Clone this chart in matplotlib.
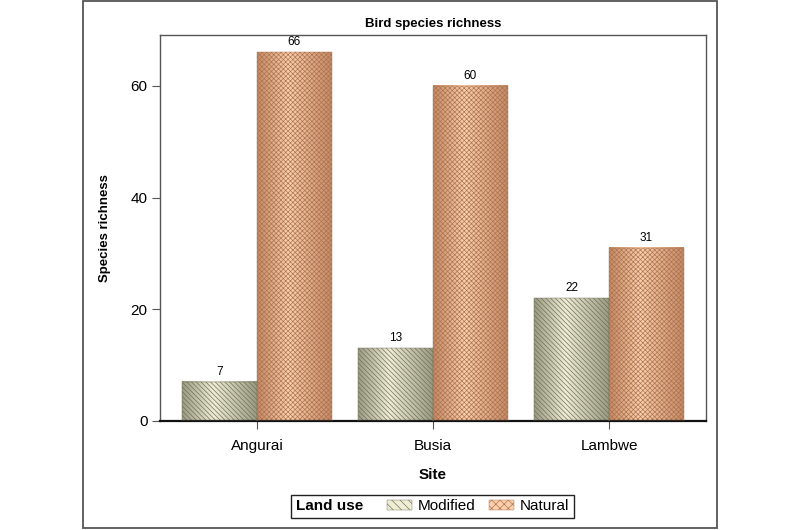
import numpy as np
import matplotlib
matplotlib.use("Agg")
import matplotlib.pyplot as plt
from matplotlib.colors import LinearSegmentedColormap
from matplotlib.patches import Patch, Rectangle
from matplotlib.offsetbox import HPacker

sites = ["Angurai", "Busia", "Lambwe"]
modified = [7, 13, 22]
natural = [66, 60, 31]
series_names = ["Modified", "Natural"]

plt.rcParams["font.family"] = ["Liberation Sans", "DejaVu Sans"]
plt.rcParams["hatch.linewidth"] = 0.45

fig = plt.figure(figsize=(8, 5.3), dpi=100)
ax = fig.add_axes([0.2, 0.2057, 0.6825, 0.7283])

# outer frame around the whole plot region
fig.patches.append(Rectangle((83 / 800, 1 - 528 / 530), (717 - 83) / 800, 527 / 530,
                             transform=fig.transFigure, fill=False,
                             edgecolor="#555555", lw=1.3))

width = 0.425
x = np.arange(len(sites))

styles = {
    "Modified": dict(edge="#9c9c82", mid="#efedd4", hatch="\\" * 7, hcol="#6a695a"),
    "Natural": dict(edge="#c68a64", mid="#fccfaa", hatch="x" * 7, hcol="#a87252"),
}


def shaded_bar(x0, x1, h, st):
    cmap = LinearSegmentedColormap.from_list(
        "g", [(0, st["edge"]), (0.42, st["mid"]), (1, st["edge"])])
    grad = np.linspace(0, 1, 64)[np.newaxis, :]
    ax.imshow(grad, extent=[x0, x1, 0, h], aspect="auto", cmap=cmap,
              zorder=1, interpolation="bilinear")
    ax.bar((x0 + x1) / 2, h, width=x1 - x0, fill=False, hatch=st["hatch"],
           edgecolor=st["hcol"], linewidth=0, zorder=2)
    ax.bar((x0 + x1) / 2, h, width=x1 - x0, fill=False,
           edgecolor=st["hcol"], linewidth=0.3, zorder=3)


for i, (m, n) in enumerate(zip(modified, natural)):
    shaded_bar(x[i] - width, x[i], m, styles["Modified"])
    shaded_bar(x[i], x[i] + width, n, styles["Natural"])
    ax.annotate(str(m), (x[i] - width / 2, m), xytext=(0, 3),
                textcoords="offset points", ha="center", va="bottom", fontsize=8.5)
    ax.annotate(str(n), (x[i] + width / 2, n), xytext=(0, 3),
                textcoords="offset points", ha="center", va="bottom", fontsize=8.5)

ax.set_xlim(-0.55, 2.55)
ax.set_ylim(0, 69.1)
ax.set_xticks(x)
ax.set_xticklabels(sites, fontsize=11)
ax.set_yticks([0, 20, 40, 60])
ax.tick_params(axis="y", labelsize=11, length=6, color="#555555", pad=3)
ax.tick_params(axis="x", length=6, color="#555555", pad=7)

for s in ["left", "top", "right"]:
    ax.spines[s].set_color("#555555")
    ax.spines[s].set_linewidth(1.0)
ax.spines["bottom"].set_color("#111111")
ax.spines["bottom"].set_linewidth(1.6)

ax.set_title("Bird species richness", fontsize=9.5, fontweight="bold", pad=6)
ax.set_xlabel("Site", fontsize=11, fontweight="bold", labelpad=11)
ax.set_ylabel("Species richness", fontsize=9.5, fontweight="bold", labelpad=14)

handles = [Patch(facecolor=styles[k]["mid"], edgecolor=styles[k]["hcol"],
                 hatch="\\" * 4 if k == "Modified" else "x" * 4, linewidth=0.3)
           for k in series_names]
leg = fig.legend(handles, series_names, loc="center", ncol=2,
                 bbox_to_anchor=(0.541, 0.045), bbox_transform=fig.transFigure,
                 title="Land use", title_fontproperties={"weight": "bold", "size": 11},
                 fontsize=11, fancybox=False, framealpha=1, edgecolor="#222222",
                 handlelength=1.65, handleheight=0.6, handletextpad=0.4,
                 columnspacing=0.85, borderpad=0.3, borderaxespad=0)
leg.get_frame().set_linewidth(1.0)
# put the legend title on the left of the entries
box = HPacker(pad=leg._legend_box.pad, sep=17, align="center",
              children=leg._legend_box.get_children())
box.set_figure(fig)
box.set_offset(leg._findoffset)
leg._legend_box = box

fig.savefig("out.png", dpi=100)
